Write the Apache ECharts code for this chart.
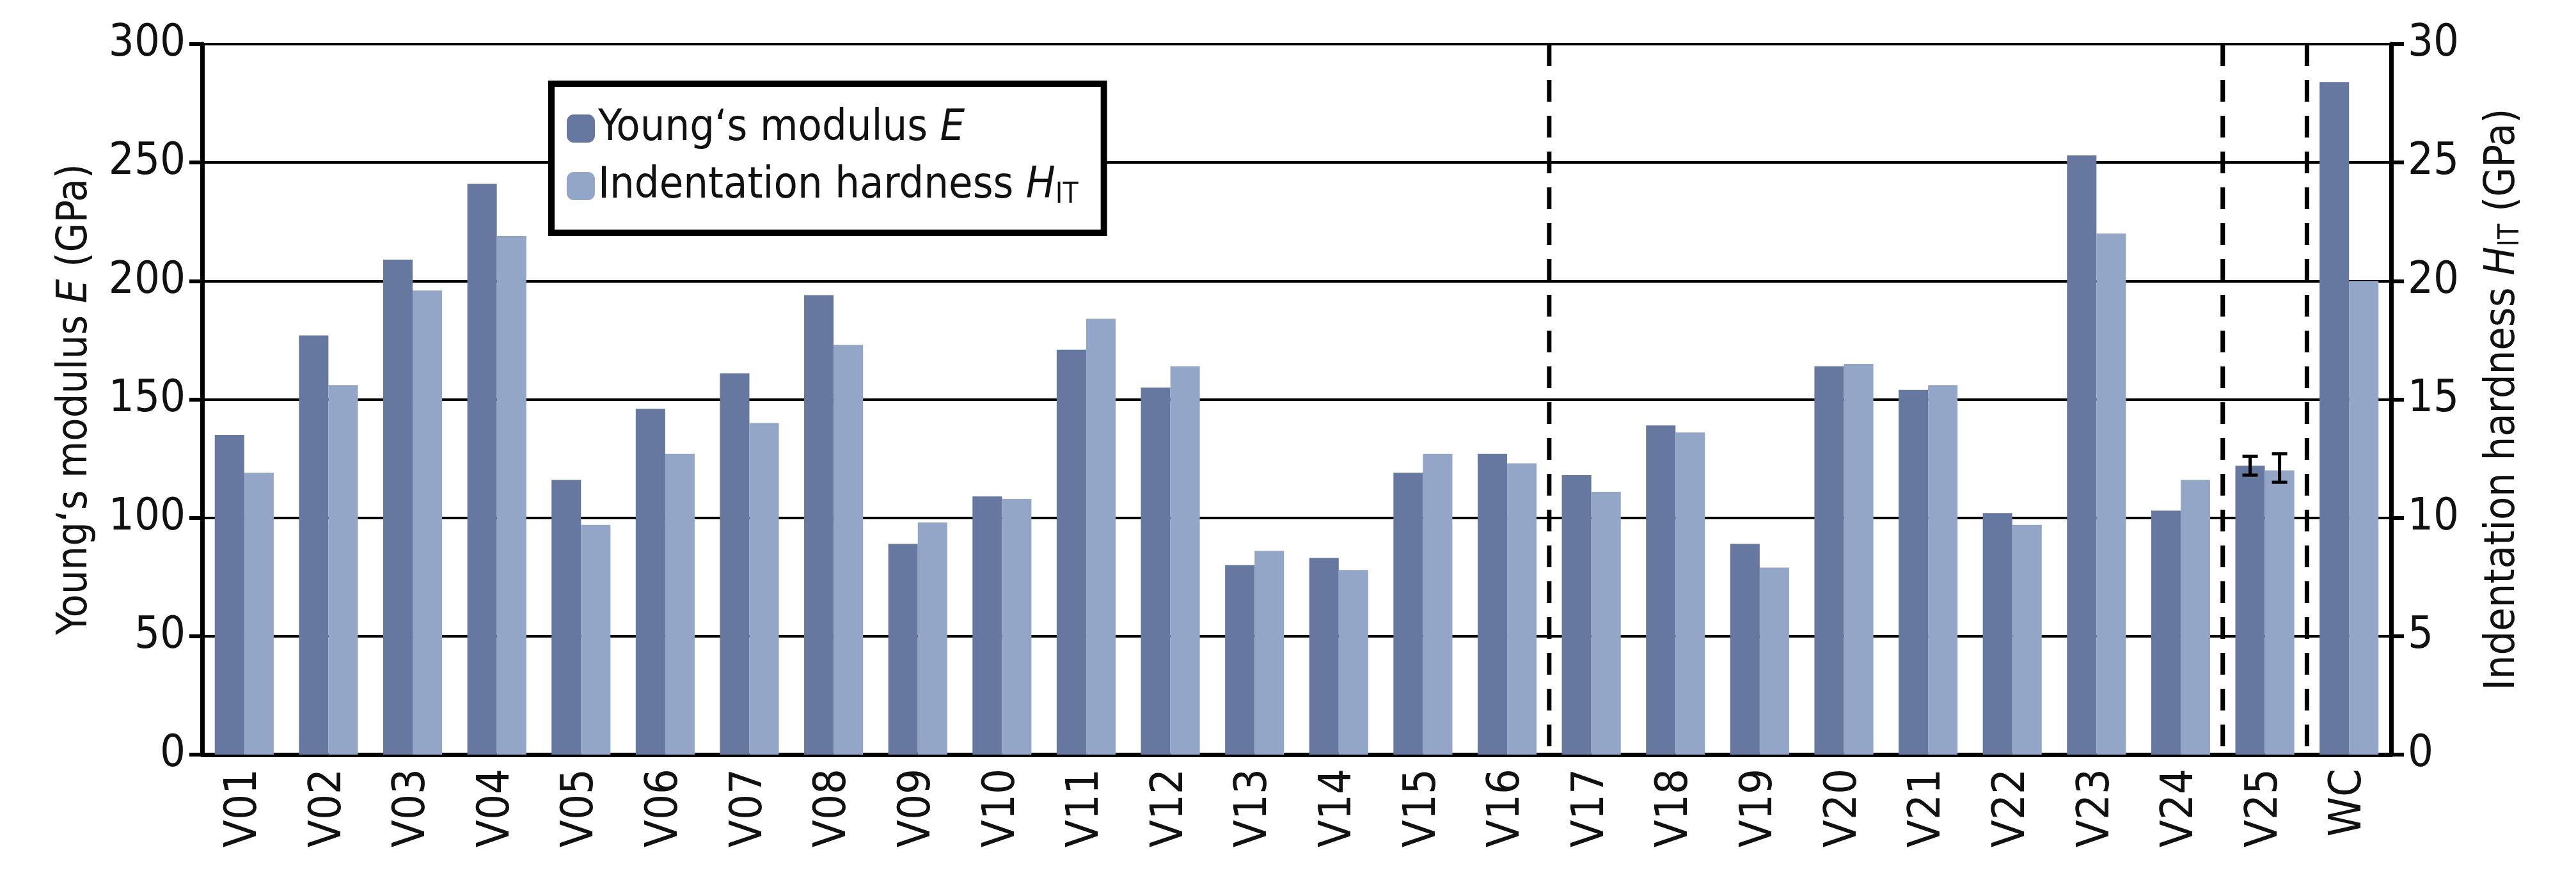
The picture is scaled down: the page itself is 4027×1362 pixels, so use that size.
<!DOCTYPE html>
<html>
<head>
<meta charset="utf-8">
<script src="https://cdn.jsdelivr.net/npm/echarts@6/dist/echarts.min.js"></script>
<style>html,body{margin:0;background:#fff}#c{width:4027px;height:1362px}</style>
</head>
<body>
<div id="c"></div>
<script>
const categories = ['V01','V02','V03','V04','V05','V06','V07','V08','V09','V10','V11','V12','V13','V14','V15','V16','V17','V18','V19','V20','V21','V22','V23','V24','V25','WC'];
const youngsE = [135,177,209,241,116,146,161,194,89,109,171,155,80,83,119,127,118,139,89,164,154,102,253,103,122,284];
const hardnessH = [11.9,15.6,19.6,21.9,9.7,12.7,14.0,17.3,9.8,10.8,18.4,16.4,8.6,7.8,12.7,12.3,11.1,13.6,7.9,16.5,15.6,9.7,22.0,11.6,12.0,20.0];
// error bars: [category index, low, high]
const errE = [[24, 118, 126]];
const errH = [[24, 11.5, 12.7]];
// group separators: [category index right of the line, y]
const separators = [[16, 0], [24, 0], [25, 0]];

const FONT = 'DejaVu Sans Condensed, DejaVu Sans';
const BAR = 0.35;

function errorItem(side) {
  return function (params, api) {
    const band = api.size([1, 0])[0];
    const off = side * band * BAR / 2;
    const lo = api.coord([api.value(0), api.value(1)]);
    const hi = api.coord([api.value(0), api.value(2)]);
    const x = lo[0] + off, w = 12;
    const st = { stroke: '#000', lineWidth: 5 };
    return { type: 'group', children: [
      { type: 'line', shape: { x1: x, y1: lo[1], x2: x, y2: hi[1] }, style: st },
      { type: 'line', shape: { x1: x - w, y1: lo[1], x2: x + w, y2: lo[1] }, style: st },
      { type: 'line', shape: { x1: x - w, y1: hi[1], x2: x + w, y2: hi[1] }, style: st }
    ]};
  };
}

const chart = echarts.init(document.getElementById('c'));
chart.setOption({
  animation: false,
  textStyle: { fontFamily: FONT },
  grid: { left: 316, right: 289, top: 69, bottom: 182 },
  legend: {
    left: 862, top: 131, orient: 'vertical',
    padding: [36, 40, 36, 24], itemGap: 22,
    itemWidth: 44, itemHeight: 44,
    borderColor: '#000', borderWidth: 10, backgroundColor: '#fff',
    data: ['E', 'H'],
    formatter: n => n === 'E' ? 'Young‘s modulus {i|E}' : 'Indentation hardness {i|H}{s|IT}',
    textStyle: { fontSize: 68, color: '#111', fontFamily: FONT,
      rich: { i: { fontStyle: 'italic', fontSize: 68, fontFamily: FONT },
              s: { fontSize: 44, verticalAlign: 'bottom', padding: [30, 0, 0, 0], fontFamily: FONT } } }
  },
  xAxis: {
    type: 'category', data: categories,
    axisLine: { lineStyle: { color: '#000', width: 7 } },
    axisTick: { length: 20, lineStyle: { color: '#000', width: 6 } },
    axisLabel: { rotate: 90, fontSize: 70, color: '#111', margin: 22 }
  },
  yAxis: [{
    type: 'value', min: 0, max: 300, interval: 50,
    name: 'Young‘s modulus {i|E} (GPa)', nameLocation: 'middle', nameRotate: 90, nameGap: 165,
    nameTextStyle: { fontSize: 66, color: '#111', rich: { i: { fontStyle: 'italic', fontSize: 66 } } },
    axisLine: { show: true, lineStyle: { color: '#000', width: 7 } },
    axisTick: { show: true, length: 20, lineStyle: { color: '#000', width: 6 } },
    axisLabel: { fontSize: 70, color: '#111', margin: 26 },
    splitLine: { lineStyle: { color: '#000', width: 4 } }
  }, {
    type: 'value', min: 0, max: 30, interval: 5,
    name: 'Indentation hardness {i|H}{s|IT} (GPa)', nameLocation: 'middle', nameRotate: 90, nameGap: 140,
    nameTextStyle: { fontSize: 66, color: '#111', rich: { i: { fontStyle: 'italic', fontSize: 66 }, s: { fontSize: 44, padding: [26, 0, 0, 0] } } },
    axisLine: { show: true, lineStyle: { color: '#000', width: 7 } },
    axisTick: { show: true, length: 20, lineStyle: { color: '#000', width: 6 } },
    axisLabel: { fontSize: 70, color: '#111', margin: 26 },
    splitLine: { show: false }
  }],
  series: [
    { name: 'E', type: 'bar', data: youngsE, barWidth: '35%', barGap: '0%', itemStyle: { color: '#66789f' } },
    { name: 'H', type: 'bar', yAxisIndex: 1, data: hardnessH, barWidth: '35%', itemStyle: { color: '#93a6c7' } },
    { type: 'custom', data: errE, encode: { x: 0, y: [1, 2] }, renderItem: errorItem(-1), z: 5 },
    { type: 'custom', yAxisIndex: 1, data: errH, encode: { x: 0, y: [1, 2] }, renderItem: errorItem(1), z: 5 },
    { type: 'custom', data: separators, encode: { x: 0, y: 1 }, z: 4,
      renderItem: function (params, api) {
        const band = api.size([1, 0])[0];
        const top = api.coord([api.value(0), 300]);
        const bot = api.coord([api.value(0), 0]);
        const x = top[0] - band / 2;
        return { type: 'line', shape: { x1: x, y1: top[1], x2: x, y2: bot[1] },
          style: { stroke: '#000', lineWidth: 7, lineDash: [34, 22] } };
      } }
  ]
});
</script>
</body>
</html>
